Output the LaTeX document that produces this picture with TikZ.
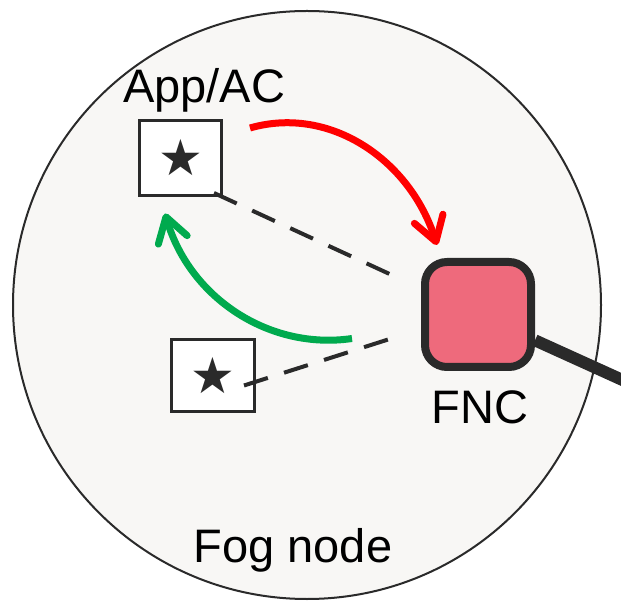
\documentclass[tikz,border=0pt]{standalone}
\usepackage{fontspec}
\setmainfont{Liberation Sans}
\newfontfamily\symbolfont{DejaVu Sans}
\usetikzlibrary{arrows.meta, positioning, calc}
\definecolor{fogfill}{HTML}{F8F7F5}
\definecolor{inkdark}{HTML}{2A2A2A}
\definecolor{fncpink}{HTML}{EE6A7C}
\definecolor{flowred}{HTML}{FF0000}
\definecolor{flowgreen}{HTML}{00AA4E}

\begin{document}
\begin{tikzpicture}[x=1pt, y=-1pt,
      appbox/.style={draw=inkdark, fill=white, line width=3pt,
        minimum width=82pt, minimum height=75pt, inner sep=0pt,
        font=\symbolfont\fontsize{50}{50}\selectfont, text=inkdark},
      fncbox/.style={draw=inkdark, fill=fncpink, line width=8pt,
        rounded corners=22pt, minimum width=106pt, minimum height=105pt},
      caption/.style={font=\fontsize{47}{50}\selectfont, anchor=base},
      link/.style={draw=inkdark, line width=4pt, dash pattern=on 25pt off 17pt},
      flow/.style={line width=7pt,
        -{Straight Barb[length=24pt, width=30pt, round]}}
    ]
      \useasboundingbox (0,0) rectangle (621,601);
      \draw[draw=inkdark, fill=fogfill, line width=2pt] (307,305) circle[radius=294];
      \node[caption] (fogtext) at (293,562) {Fog node};
      \node[appbox] (app) at (180.5,158) {★};
      \node[caption] (apptext) at (204,103) {App/AC};
      \node[appbox, minimum width=83pt, minimum height=72pt] (device) at (213,375.5) {★};
      \node[fncbox] (fnc) at (478,314.5) {};
      \node[caption] (fnctext) at (480,423) {FNC};
      \coordinate (uplink) at (660,397);
      \draw[draw=inkdark, line width=12pt] (fnc) -- (uplink);
      \draw[link, shorten >=20pt] ($(app.south east)+(-9,-4)$) -- ([yshift=26pt]fnc.west);
      \draw[link, shorten >=22pt] ([shift={(-12,10)}]device.east) -- ([yshift=-14.5pt]fnc.west);
      \draw[flow, flowred] ($(app.north east)+(27,9)$)
        .. controls +(80,-23) and +(-27,-85) .. ($(fnc.north west)+(16,-13)$);
      \draw[flow, flowgreen] ($(fnc.west)+(-69,24)$)
        .. controls +(-82,12) and +(25,85) .. ($(app.south)+(-15.5,16.5)$);
    \end{tikzpicture}
\end{document}
